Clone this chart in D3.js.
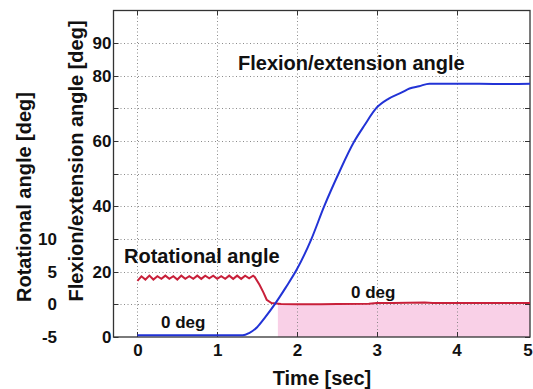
<!DOCTYPE html>
<html>
<head>
<meta charset="utf-8">
<script src="https://cdn.jsdelivr.net/npm/d3@7"></script>
<style>
  body { margin: 0; background: #fff; }
  text { font-family: "Liberation Sans", Arial, sans-serif; font-weight: bold; fill: #111; }
</style>
</head>
<body>
<div id="chart"></div>
<script>
// flexion/extension angle (blue)
var flexTime  = [0, 0.5, 1.0, 1.32, 1.40, 1.50, 1.60, 1.72, 1.86, 2.00, 2.18, 2.34, 2.52, 2.72, 2.85, 2.99, 3.15, 3.32, 3.41, 3.53, 3.66, 4.0, 4.5, 4.92];
var flexAngle = [0.5, 0.5, 0.5, 0.5, 1.2, 3.0, 6.0, 10, 15.2, 20.8, 30, 40, 50, 60, 65, 70, 73, 75, 76.1, 76.8, 77.6, 77.6, 77.5, 77.6];

// rotational angle (red)
var rotTime  = [0, 0.05, 0.10, 0.15, 0.20, 0.25, 0.30, 0.35, 0.40, 0.45, 0.50, 0.55, 0.60, 0.65, 0.70,
                0.75, 0.80, 0.85, 0.90, 0.95, 1.00, 1.05, 1.10, 1.15, 1.20, 1.25, 1.30, 1.35, 1.40, 1.45,
                1.47, 1.53, 1.58, 1.62, 1.68, 1.8, 2.0, 2.3, 2.5, 2.9, 3.0, 3.2, 3.6, 3.7, 4.0, 4.5, 4.92];
var rotAngle = [3.6, 4.3, 3.8, 4.4, 3.8, 4.3, 3.9, 4.4, 3.9, 4.3, 3.8, 4.4, 3.9, 4.3, 3.9,
                4.4, 3.9, 4.4, 4.0, 4.4, 3.9, 4.3, 3.9, 4.4, 3.9, 4.4, 3.9, 4.4, 4.0, 4.4,
                4.2, 3.0, 1.8, 0.7, 0.2, 0.05, 0.0, 0.0, 0.05, 0.1, 0.2, 0.2, 0.3, 0.2, 0.2, 0.2, 0.2];

// shaded region (rotational angle held at 0 deg)
var shadeFrom = 1.76;

var xTicks = [0, 1, 2, 3, 4, 5];
var flexTicks = [0, 20, 40, 60, 80, 90];
var flexGrid = [10, 20, 30, 40, 50, 60, 70, 80, 90];
var rotTicks = [-5, 0, 5, 10];

var svgWidth = 533, svgHeight = 389;
var plot = { left: 113.5, right: 530, top: 10.5, bottom: 337 };

var svg = d3.select("#chart").append("svg")
  .attr("width", svgWidth)
  .attr("height", svgHeight);

var x = d3.scaleLinear().domain([-0.3, 4.92]).range([plot.left, plot.right]);
var y = d3.scaleLinear().domain([0, 100]).range([plot.bottom, plot.top]);
// rotational axis shares the frame: flex = 2 * (rot + 5)
var yRot = d3.scaleLinear().domain([-5, 45]).range([plot.bottom, plot.top]);

// pink shading
svg.append("rect")
  .attr("x", x(shadeFrom))
  .attr("y", yRot(0))
  .attr("width", plot.right - x(shadeFrom))
  .attr("height", plot.bottom - yRot(0))
  .attr("fill", "#f9d0e7");

// dotted grid
var grid = svg.append("g").attr("stroke", "#8a8a8a").attr("stroke-width", 1).attr("stroke-dasharray", "1,2.5");
grid.selectAll(".gx").data(xTicks.filter(d => d < 4.92)).enter().append("line")
  .attr("x1", d => Math.round(x(d)) + 0.5).attr("x2", d => Math.round(x(d)) + 0.5)
  .attr("y1", plot.top).attr("y2", plot.bottom);
grid.selectAll(".gy").data(flexGrid).enter().append("line")
  .attr("x1", plot.left).attr("x2", plot.right)
  .attr("y1", d => Math.round(y(d)) + 0.5).attr("y2", d => Math.round(y(d)) + 0.5);

// inward tick marks on all four sides
var ticks = svg.append("g").attr("stroke", "#333").attr("stroke-width", 1);
xTicks.filter(d => d < 4.92).forEach(function(d) {
  var px = Math.round(x(d)) + 0.5;
  ticks.append("line").attr("x1", px).attr("x2", px).attr("y1", plot.bottom).attr("y2", plot.bottom - 5);
  ticks.append("line").attr("x1", px).attr("x2", px).attr("y1", plot.top).attr("y2", plot.top + 5);
});
[0].concat(flexGrid).forEach(function(d) {
  var py = Math.round(y(d)) + 0.5;
  ticks.append("line").attr("x1", plot.left).attr("x2", plot.left + 5).attr("y1", py).attr("y2", py);
  ticks.append("line").attr("x1", plot.right).attr("x2", plot.right - 5).attr("y1", py).attr("y2", py);
});

// frame
svg.append("rect")
  .attr("x", plot.left).attr("y", plot.top)
  .attr("width", plot.right - plot.left).attr("height", plot.bottom - plot.top)
  .attr("fill", "none").attr("stroke", "#333").attr("stroke-width", 1.3);

// lines
var flexData = flexTime.map((t, i) => ({ t: t, v: flexAngle[i] }));
var rotData = rotTime.map((t, i) => ({ t: t, v: rotAngle[i] }));

svg.append("path")
  .datum(rotData)
  .attr("fill", "none").attr("stroke", "#c8203a").attr("stroke-width", 2)
  .attr("d", d3.line().x(d => x(d.t)).y(d => yRot(d.v)));

svg.append("path")
  .datum(flexData)
  .attr("fill", "none").attr("stroke", "#2233d6").attr("stroke-width", 2)
  .attr("d", d3.line().x(d => x(d.t)).y(d => y(d.v)).curve(d3.curveMonotoneX));

// axes (labels only)
var fmt = d => String(d);

var xAxis = svg.append("g")
  .attr("transform", `translate(0, ${plot.bottom})`)
  .call(d3.axisBottom(x).tickValues(xTicks).tickSize(0).tickPadding(7).tickFormat(fmt));
xAxis.select(".domain").remove();
xAxis.selectAll("text").style("font-size", "17px").attr("fill", "#111")
  .filter(d => d === 5).attr("dx", -9);

var yAxis = svg.append("g")
  .attr("transform", `translate(${plot.left}, 0)`)
  .call(d3.axisLeft(y).tickValues(flexTicks).tickSize(0).tickPadding(2).tickFormat(fmt));
yAxis.select(".domain").remove();
yAxis.selectAll("text").style("font-size", "17px").attr("fill", "#111");

var rotAxis = svg.append("g")
  .attr("transform", "translate(57, 0)")
  .call(d3.axisLeft(yRot).tickValues(rotTicks).tickSize(0).tickPadding(0).tickFormat(fmt));
rotAxis.select(".domain").remove();
rotAxis.selectAll("text").style("font-size", "17px").attr("fill", "#111");

// axis titles
svg.append("text")
  .attr("x", 322).attr("y", 385)
  .attr("text-anchor", "middle")
  .style("font-size", "20px")
  .text("Time [sec]");

svg.append("text")
  .attr("transform", "translate(76, 161) rotate(-90)")
  .attr("text-anchor", "middle").attr("dy", "0.35em")
  .style("font-size", "20px")
  .text("Flexion/extension angle [deg]");

svg.append("text")
  .attr("transform", "translate(24, 197) rotate(-90)")
  .attr("text-anchor", "middle").attr("dy", "0.35em")
  .style("font-size", "20px")
  .text("Rotational angle [deg]");

// annotations
svg.append("text").attr("x", 238).attr("y", 70).style("font-size", "20px").text("Flexion/extension angle");
svg.append("text").attr("x", 124).attr("y", 263).style("font-size", "20px").text("Rotational angle");
svg.append("text").attr("x", 161).attr("y", 328).style("font-size", "17px").text("0 deg");
svg.append("text").attr("x", 351).attr("y", 298).style("font-size", "17px").text("0 deg");
</script>
</body>
</html>
